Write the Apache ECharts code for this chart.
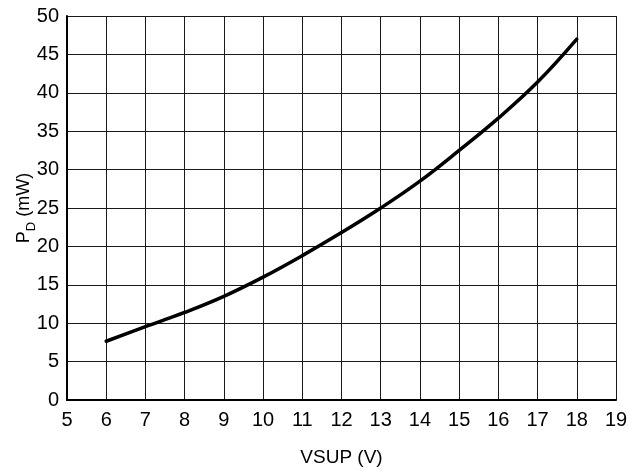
<!DOCTYPE html>
<html>
<head>
<meta charset="utf-8">
<script src="https://cdn.jsdelivr.net/npm/echarts@6/dist/echarts.min.js"></script>
<style>
html,body{margin:0;padding:0;background:#fff;}
#chart{width:639px;height:470px;}
</style>
</head>
<body>
<div id="chart"></div>
<script>
const vsup = [6, 7, 8, 9, 10, 11, 12, 13, 14, 15, 16, 17, 18];
const pd = [7.65, 9.55, 11.4, 13.5, 16.0, 18.8, 21.8, 25.0, 28.5, 32.5, 36.7, 41.4, 47.0];
const xTicks = [5, 6, 7, 8, 9, 10, 11, 12, 13, 14, 15, 16, 17, 18, 19];
const yTicks = [0, 5, 10, 15, 20, 25, 30, 35, 40, 45, 50];
const xTitle = 'VSUP (V)';

const chart = echarts.init(document.getElementById('chart'));
const font = 'Liberation Sans, Arial, sans-serif';
chart.setOption({
  animation: false,
  grid: {left: 67, right: 23, top: 16, bottom: 70, containLabel: false, outerBoundsMode: 'none'},
  xAxis: {
    type: 'value', min: xTicks[0], max: xTicks[xTicks.length - 1], interval: 1,
    name: xTitle, nameLocation: 'middle', nameGap: 48, nameMoveOverlap: false,
    nameTextStyle: {fontSize: 19, color: '#000', fontFamily: font},
    axisLine: {show: true, onZero: false, lineStyle: {color: '#000', width: 2}},
    axisTick: {show: false},
    axisLabel: {fontSize: 20, color: '#000', fontFamily: font, margin: 10},
    splitLine: {show: true, lineStyle: {color: '#1a1a1a', width: 1}}
  },
  yAxis: {
    type: 'value', min: yTicks[0], max: yTicks[yTicks.length - 1], interval: 5,
    name: '{p|P}{sub|D}{p| (mW)}', nameLocation: 'middle', nameGap: 32, nameRotate: 90,
    nameMoveOverlap: false,
    nameTextStyle: {
      color: '#000', fontFamily: font,
      rich: {
        p: {fontSize: 18, color: '#000', fontFamily: font, lineHeight: 20, verticalAlign: 'top'},
        sub: {fontSize: 13, color: '#000', fontFamily: font, lineHeight: 18, padding: [10, 0, 0, 0], verticalAlign: 'top'}
      }
    },
    axisLine: {show: true, onZero: false, lineStyle: {color: '#000', width: 2}},
    axisTick: {show: false},
    axisLabel: {fontSize: 20, color: '#000', fontFamily: font, margin: 8},
    splitLine: {show: true, lineStyle: {color: '#1a1a1a', width: 1}}
  },
  series: [{
    type: 'line',
    data: vsup.map((x, i) => [x, pd[i]]),
    smooth: 0.4,
    showSymbol: false,
    lineStyle: {color: '#000', width: 3.5, cap: 'round'}
  }]
});
</script>
</body>
</html>
